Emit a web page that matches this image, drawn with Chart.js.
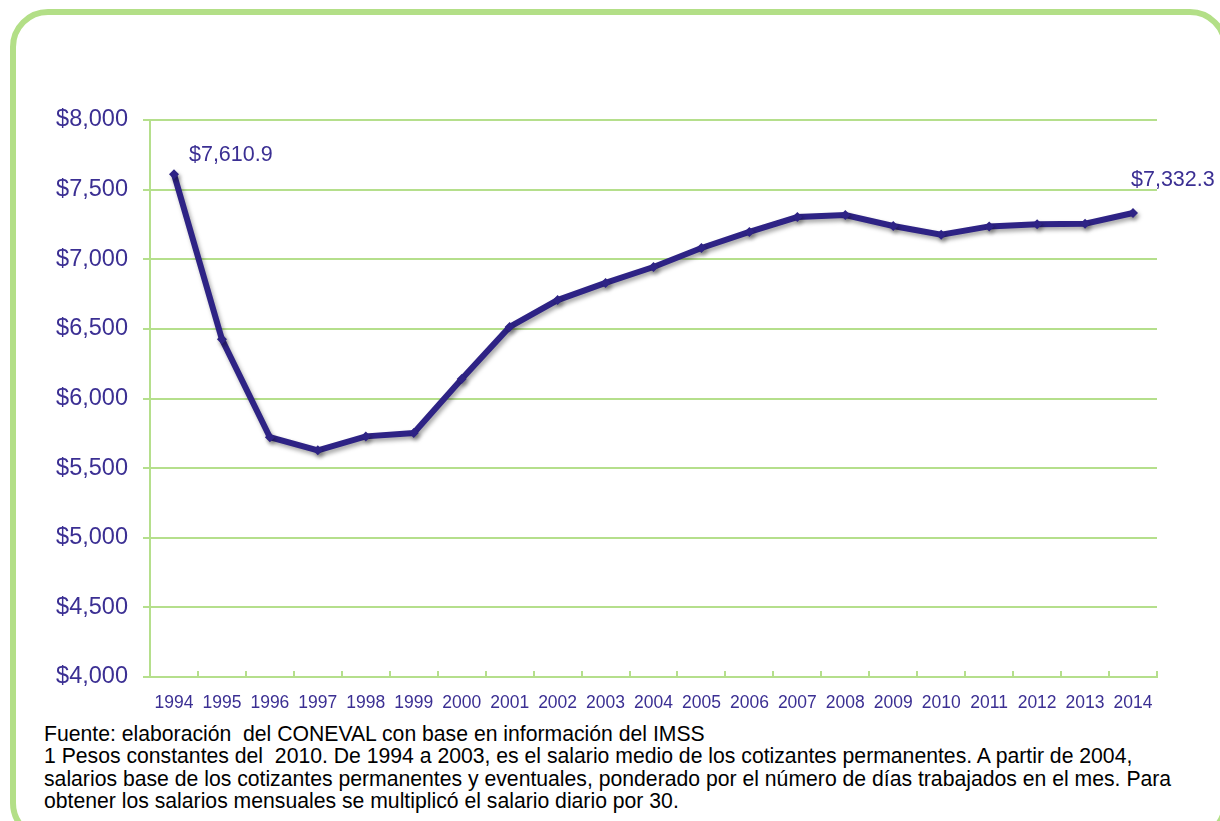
<!DOCTYPE html>
<html>
<head>
<meta charset="utf-8">
<script src="https://cdn.jsdelivr.net/npm/chart.js@4.4.1/dist/chart.umd.min.js"></script>
<style>
  html, body { margin: 0; padding: 0; background: #fff; overflow: hidden; }
  body { width: 1220px; height: 821px; position: relative; font-family: "Liberation Sans", Arial, sans-serif; }
  .frame {
    position: absolute; left: 10px; top: 9px; width: 1206px; height: 820px;
    border: 6px solid #b3df87; border-radius: 38px;
  }
  #chart { position: absolute; left: 0; top: 0; }
  .nota {
    position: absolute; left: 44px; top: 723px; font-size: 21.2px; line-height: 22.3px;
    color: #000; white-space: pre;
  }
</style>
</head>
<body>
<div class="frame"></div>
<canvas id="chart" width="1220" height="712"></canvas>
<div class="nota">Fuente: elaboración  del CONEVAL con base en información del IMSS
1 Pesos constantes del  2010. De 1994 a 2003, es el salario medio de los cotizantes permanentes. A partir de 2004,
salarios base de los cotizantes permanentes y eventuales, ponderado por el número de días trabajados en el mes. Para
obtener los salarios mensuales se multiplicó el salario diario por 30.</div>
<script>
// datos: salario mensual (pesos constantes 2010)
const years = ['1994','1995','1996','1997','1998','1999','2000','2001','2002','2003','2004',
               '2005','2006','2007','2008','2009','2010','2011','2012','2013','2014'];
const salario = [7610.9, 6425, 5722, 5628, 5728, 5752, 6140, 6514, 6707, 6830, 6944,
                 7081, 7196, 7303, 7318, 7239, 7176, 7236, 7251, 7255, 7332.3];
const yTicks = [4000, 4500, 5000, 5500, 6000, 6500, 7000, 7500, 8000];
const labeled = [0, 20];   // puntos con etiqueta

const GREEN = '#b5df8c';
const INDIGO = '#2e2385';
const TXT = '#3b2f93';

const fmt = v => '$' + v.toLocaleString('en-US', { minimumFractionDigits: 0, maximumFractionDigits: 0 });
const fmt1 = v => '$' + v.toLocaleString('en-US', { minimumFractionDigits: 1, maximumFractionDigits: 1 });

// sombra de la linea
const shadowPlugin = {
  id: 'shadow',
  beforeDatasetDraw(chart) {
    const c = chart.ctx;
    c.save();
    c.shadowColor = 'rgba(0,0,0,0.35)';
    c.shadowBlur = 4;
    c.shadowOffsetX = 2;
    c.shadowOffsetY = 3;
  },
  afterDatasetDraw(chart) { chart.ctx.restore(); }
};

// marcas del eje x hacia arriba, entre categorias
const xTickPlugin = {
  id: 'xTicks',
  beforeDatasetsDraw(chart) {
    const x = chart.scales.x, c = chart.ctx;
    const n = years.length, step = x.width / n;
    c.save();
    c.strokeStyle = GREEN;
    c.lineWidth = 2;
    c.beginPath();
    for (let i = 1; i <= n; i++) {
      const px = Math.round(x.left + i * step);
      c.moveTo(px, x.top);
      c.lineTo(px, x.top - 6);
    }
    c.stroke();
    c.restore();
  }
};

// etiquetas de datos (primero y ultimo)
const labelPlugin = {
  id: 'dataLabels',
  afterDatasetsDraw(chart) {
    const meta = chart.getDatasetMeta(0), c = chart.ctx;
    c.save();
    c.font = '21.5px "Liberation Sans", Arial, sans-serif';
    c.fillStyle = TXT;
    c.textBaseline = 'middle';
    labeled.forEach((i, k) => {
      const p = meta.data[i];
      c.textAlign = 'left';
      if (k === 0) c.fillText(fmt1(salario[i]), p.x + 15, p.y - 19);
      else c.fillText(fmt1(salario[i]), p.x - 2, p.y - 33);
    });
    c.restore();
  }
};

new Chart(document.getElementById('chart'), {
  type: 'line',
  data: {
    labels: years,
    datasets: [{
      data: salario,
      borderColor: INDIGO,
      backgroundColor: INDIGO,
      borderWidth: 6,
      pointStyle: 'rectRot',
      pointRadius: 5,
      pointBorderWidth: 0,
      pointBackgroundColor: INDIGO,
      tension: 0,
      fill: false
    }]
  },
  options: {
    responsive: false,
    animation: false,
    devicePixelRatio: 1,
    layout: { padding: { left: 0, right: 63, top: 120, bottom: 0 } },
    plugins: { legend: { display: false }, tooltip: { enabled: false } },
    scales: {
      x: {
        offset: true,
        grid: { display: false },
        border: { display: true, color: GREEN, width: 2 },
        ticks: {
          color: TXT, padding: 8, maxRotation: 0, autoSkip: false,
          font: { family: '"Liberation Sans", Arial, sans-serif', size: 17.5 }
        },
        afterFit: s => { s.height = 35; }
      },
      y: {
        min: 4000, max: 8000,
        afterBuildTicks: s => { s.ticks = yTicks.map(v => ({ value: v })); },
        grid: { color: GREEN, lineWidth: 2, drawTicks: true, tickLength: 7, tickColor: GREEN },
        border: { display: true, color: GREEN, width: 2 },
        ticks: {
          color: TXT, padding: 15,
          font: { family: '"Liberation Sans", Arial, sans-serif', size: 23.5 },
          callback: v => fmt(v)
        },
        afterFit: s => { s.width = 150; }
      }
    }
  },
  plugins: [shadowPlugin, xTickPlugin, labelPlugin]
});
</script>
</body>
</html>
